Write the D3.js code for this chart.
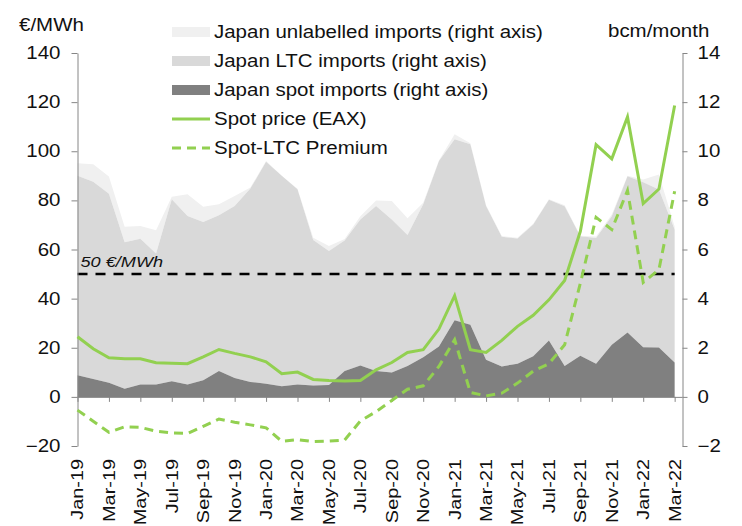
<!DOCTYPE html>
<html>
<head>
<meta charset="utf-8">
<script src="https://cdn.jsdelivr.net/npm/d3@7"></script>
<style>
  body { margin: 0; background: #fff; }
  svg text { font-family: "Liberation Sans", Arial, sans-serif; fill: #111; }
</style>
</head>
<body>
<div id="wrapper"></div>
<script>
// monthly, Jan-19 .. Mar-22
const months = ["Jan-19","Feb-19","Mar-19","Apr-19","May-19","Jun-19","Jul-19","Aug-19","Sep-19","Oct-19","Nov-19","Dec-19",
  "Jan-20","Feb-20","Mar-20","Apr-20","May-20","Jun-20","Jul-20","Aug-20","Sep-20","Oct-20","Nov-20","Dec-20",
  "Jan-21","Feb-21","Mar-21","Apr-21","May-21","Jun-21","Jul-21","Aug-21","Sep-21","Oct-21","Nov-21","Dec-21",
  "Jan-22","Feb-22","Mar-22"]

// bcm/month (right axis)
const spotImports = [0.88,0.73,0.57,0.33,0.50,0.50,0.64,0.50,0.68,1.05,0.77,0.61,
  0.53,0.43,0.50,0.46,0.48,1.05,1.28,1.05,0.99,1.26,1.61,2.05,
  3.12,2.94,1.51,1.24,1.35,1.65,2.30,1.26,1.67,1.35,2.12,2.62,
  2.02,2.01,1.40]
const ltcImports = [8.12,8.03,7.70,5.97,5.94,5.34,7.41,6.86,6.44,6.34,7.00,7.87,
  9.04,8.57,7.95,5.93,5.46,5.32,5.94,6.72,6.23,5.33,6.23,7.55,
  7.37,7.35,6.26,5.28,5.10,5.37,5.73,6.50,4.87,5.12,5.23,6.36,
  6.72,6.43,5.41]
const unlabelledImports = [0.51,0.71,0.70,0.63,0.52,0.94,0.10,0.89,0.62,0.45,0.41,0.04,
  0.03,0.00,0.02,0.09,0.20,0.06,0.13,0.23,0.75,0.68,0.06,0.02,
  0.20,0.04,0.03,0.03,0.03,0.03,0.02,0.04,0.02,0.06,0.07,0.02,
  0.11,0.61,0.13]

// €/MWh (left axis)
const spotPrice = [24.5,19.6,15.9,15.5,15.5,13.9,13.7,13.5,16.3,19.3,17.7,16.3,
  14.3,9.4,10.1,7.1,6.7,6.5,6.7,11.0,14.0,18.1,19.2,27.6,
  41.2,19.2,18.1,23.0,28.7,33.2,39.5,47.4,67.4,102.7,96.9,114.0,
  78.7,84.6,118.6]
const premium = [-5.4,-9.9,-14.4,-12.2,-12.4,-14.0,-14.7,-14.9,-12.0,-9.0,-10.3,-11.4,
  -12.6,-18.1,-17.4,-18.2,-18.0,-17.6,-9.8,-6.0,-1.5,3.1,4.5,12.4,
  23.3,1.8,0.4,1.5,5.6,10.5,13.5,21.2,46.3,73.1,68.1,84.0,
  46.6,51.8,83.7]

const threshold = 50
const leftTicks = [-20, 0, 20, 40, 60, 80, 100, 120, 140]
const rightTicks = [-2, 0, 2, 4, 6, 8, 10, 12, 14]

const legendItems = [
  { label: "Japan unlabelled imports (right axis)", type: "area", color: "#f0f0f0" },
  { label: "Japan LTC imports (right axis)", type: "area", color: "#d9d9d9" },
  { label: "Japan spot imports (right axis)", type: "area", color: "#808080" },
  { label: "Spot price (EAX)", type: "line", color: "#92d050" },
  { label: "Spot-LTC Premium", type: "dash", color: "#92d050" },
]

const width = 742, height = 526
const margin = { top: 53, right: 59.5, bottom: 80, left: 77.5 }

const svg = d3.select("#wrapper").append("svg")
  .attr("width", width)
  .attr("height", height)

const x = d3.scaleLinear().domain([0, 38.5]).range([margin.left, width - margin.right])
const yLeft = d3.scaleLinear().domain([-20, 140]).range([height - margin.bottom, margin.top])
const yRight = d3.scaleLinear().domain([-2, 14]).range([height - margin.bottom, margin.top])

// stacked imports
const table = months.map((m, i) => ({
  i: i,
  spot: spotImports[i],
  ltc: ltcImports[i],
  unlabelled: unlabelledImports[i],
}))
const stack = d3.stack().keys(["spot", "ltc", "unlabelled"])
const series = stack(table)
const areaColors = { spot: "#808080", ltc: "#d9d9d9", unlabelled: "#f0f0f0" }

const area = d3.area()
  .x(d => x(d.data.i))
  .y0(d => yRight(d[0]))
  .y1(d => yRight(d[1]))

svg.append("g").selectAll("path")
  .data(series.slice().reverse())
  .join("path")
  .attr("d", area)
  .attr("fill", d => areaColors[d.key])

// 50 €/MWh reference
svg.append("line")
  .attr("x1", x(0)).attr("x2", x(months.length - 1))
  .attr("y1", yLeft(threshold)).attr("y2", yLeft(threshold))
  .attr("stroke", "#000")
  .attr("stroke-width", 2.6)
  .attr("stroke-dasharray", "10,8")

svg.append("text")
  .attr("x", x(0) + 3)
  .attr("y", yLeft(threshold) - 7)
  .style("font-size", "15.5px")
  .style("font-style", "italic")
  .text("50 €/MWh")

// axes
const axisColor = "#868686"

const xAxis = svg.append("g")
  .attr("transform", `translate(0,${yLeft(0)})`)
  .call(d3.axisBottom(x)
    .tickValues(d3.range(0, months.length, 2))
    .tickSize(5)
    .tickSizeOuter(0)
    .tickFormat(""))
xAxis.select(".domain").attr("d", `M${x(0)},0.5H${x.range()[1]}`)

const xLabels = svg.append("g")
  .selectAll("text")
  .data(d3.range(0, months.length, 2))
  .join("text")
  .attr("transform", i => `translate(${x(i)},459) rotate(-90)`)
  .attr("text-anchor", "end")
  .attr("dy", "0.35em")
  .style("font-size", "17px")
  .text(i => months[i])

const leftAxis = svg.append("g")
  .attr("transform", `translate(${margin.left},0)`)
  .call(d3.axisLeft(yLeft).tickValues(leftTicks).tickSize(6).tickSizeOuter(0).tickPadding(11))

const rightAxis = svg.append("g")
  .attr("transform", `translate(${width - margin.right},0)`)
  .call(d3.axisRight(yRight).tickValues(rightTicks).tickSize(5).tickSizeOuter(0).tickPadding(10))

for (const g of [xAxis, leftAxis, rightAxis]) {
  g.selectAll("path, line").attr("stroke", axisColor)
  g.selectAll("text").style("font-size", "17.5px").attr("fill", "#111")
}

// price lines
const priceLine = d3.line().x((d, i) => x(i)).y(d => yLeft(d))

svg.append("path")
  .attr("d", priceLine(spotPrice))
  .attr("fill", "none")
  .attr("stroke", "#92d050")
  .attr("stroke-width", 3)

svg.append("path")
  .attr("d", priceLine(premium))
  .attr("fill", "none")
  .attr("stroke", "#92d050")
  .attr("stroke-width", 3)
  .attr("stroke-dasharray", "9,6")

// unit labels
svg.append("text").attr("x", 19).attr("y", 31)
  .style("font-size", "17.5px").text("€/MWh")
svg.append("text").attr("x", 608).attr("y", 37)
  .style("font-size", "17.5px").text("bcm/month")

// legend
const legend = svg.append("g")
  .selectAll("g")
  .data(legendItems)
  .join("g")
  .attr("transform", (d, i) => `translate(172,${32 + i * 29})`)

legend.filter(d => d.type === "area")
  .append("rect")
  .attr("x", 0).attr("y", -5)
  .attr("width", 38).attr("height", 10)
  .attr("fill", d => d.color)

legend.filter(d => d.type !== "area")
  .append("line")
  .attr("x1", 0).attr("x2", 38)
  .attr("stroke", d => d.color)
  .attr("stroke-width", 3)
  .attr("stroke-dasharray", d => d.type === "dash" ? "9,6" : null)

legend.append("text")
  .attr("x", 42)
  .attr("dy", "0.35em")
  .style("font-size", "17.5px")
  .text(d => d.label)

// the source font runs wider than Arial
svg.selectAll("text").each(function () {
  const w = this.getComputedTextLength()
  d3.select(this).attr("textLength", w * 1.17).attr("lengthAdjust", "spacingAndGlyphs")
})
</script>
</body>
</html>
